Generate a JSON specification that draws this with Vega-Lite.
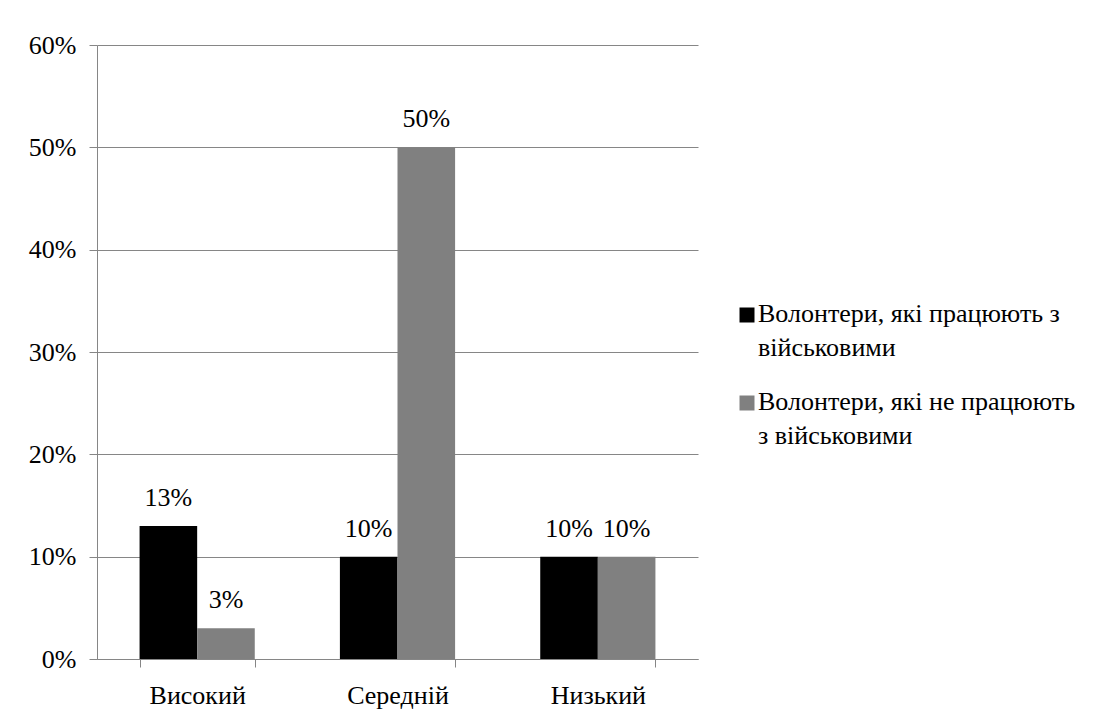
{
  "$schema": "https://vega.github.io/schema/vega-lite/v6.json",
  "width": 601,
  "height": 614,
  "autosize": {"type": "none"},
  "padding": {"left": 97, "top": 45, "right": 402, "bottom": 68},
  "background": "white",
  "config": {
    "font": "Liberation Serif",
    "view": {"stroke": null},
    "axis": {
      "labelFont": "Liberation Serif",
      "labelFontSize": 26,
      "labelColor": "#000000",
      "domainColor": "#868686",
      "tickColor": "#868686",
      "gridColor": "#868686",
      "title": null
    },
    "legend": {"labelFont": "Liberation Serif"}
  },
  "data": {
    "values": [
      {"level": "Високий", "group": "Волонтери, які працюють з військовими", "value": 0.13},
      {"level": "Високий", "group": "Волонтери, які не працюють з військовими", "value": 0.03},
      {"level": "Середній", "group": "Волонтери, які працюють з військовими", "value": 0.10},
      {"level": "Середній", "group": "Волонтери, які не працюють з військовими", "value": 0.50},
      {"level": "Низький", "group": "Волонтери, які працюють з військовими", "value": 0.10},
      {"level": "Низький", "group": "Волонтери, які не працюють з військовими", "value": 0.10}
    ]
  },
  "encoding": {
    "x": {
      "field": "level",
      "type": "nominal",
      "sort": ["Високий", "Середній", "Низький"],
      "scale": {"paddingInner": 0.425, "paddingOuter": 0.2125},
      "axis": {
        "labelAngle": 0,
        "tickBand": "extent",
        "tickSize": 8,
        "labelPadding": 15,
        "grid": false
      }
    },
    "xOffset": {
      "field": "group",
      "type": "nominal",
      "sort": ["Волонтери, які працюють з військовими", "Волонтери, які не працюють з військовими"]
    },
    "y": {
      "field": "value",
      "type": "quantitative",
      "scale": {"domain": [0, 0.6], "nice": false},
      "axis": {
        "values": [0, 0.1, 0.2, 0.3, 0.4, 0.5, 0.6],
        "format": ".0%",
        "tickSize": 8,
        "labelPadding": 13,
        "grid": true
      }
    }
  },
  "layer": [
    {
      "mark": {"type": "bar"},
      "encoding": {
        "color": {
          "field": "group",
          "type": "nominal",
          "scale": {
            "domain": ["Волонтери, які працюють з військовими", "Волонтери, які не працюють з військовими"],
            "range": ["#000000", "#808080"]
          },
          "legend": {
            "title": null,
            "orient": "none",
            "legendX": 637,
            "legendY": 257,
            "padding": 0,
            "symbolType": "square",
            "symbolSize": 225,
            "symbolStrokeWidth": 0,
            "labelFontSize": 26,
            "labelColor": "#000000",
            "labelOffset": -2,
            "labelLimit": 400,
            "rowPadding": 28,
            "labelBaseline": "alphabetic",
            "labelExpr": "datum.label == 'Волонтери, які працюють з військовими' ? ['Волонтери, які працюють з', 'військовими'] : ['Волонтери, які не працюють', 'з військовими']",
            "encode": {"labels": {"update": {"lineHeight": {"value": 34}, "dy": {"value": 7}}}}
          }
        }
      }
    },
    {
      "mark": {"type": "text", "baseline": "alphabetic", "dy": -20, "fontSize": 26, "color": "#000000"},
      "encoding": {"text": {"field": "value", "type": "quantitative", "format": ".0%"}}
    }
  ]
}
